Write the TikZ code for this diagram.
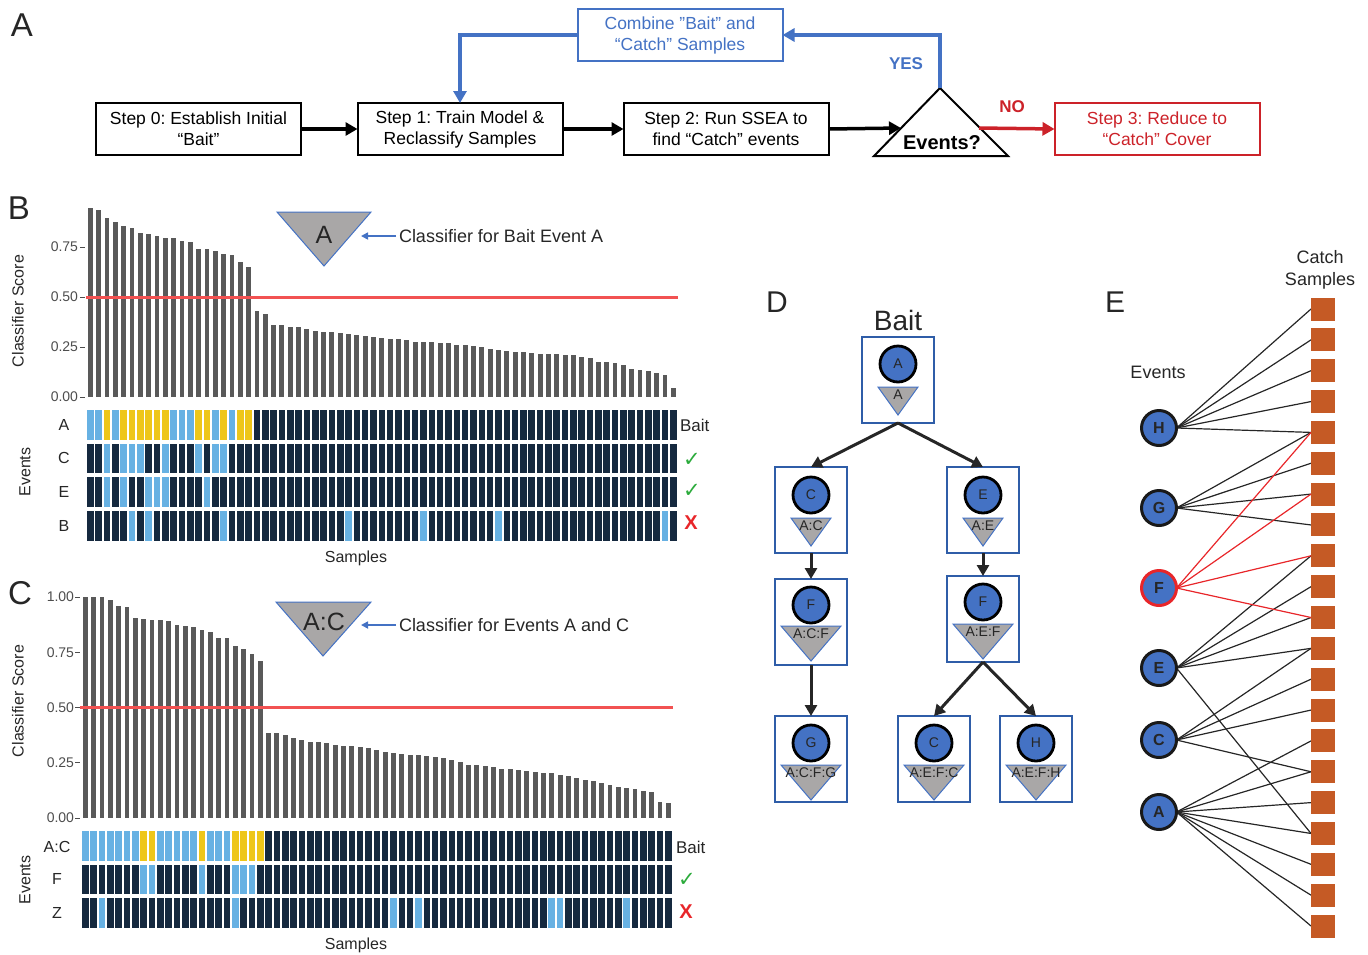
\documentclass[tikz,border=0pt]{standalone}
\usepackage{fontspec}
\setmainfont{Liberation Sans}
\newfontfamily\dejavu{DejaVu Sans}
\usetikzlibrary{arrows.meta,calc,backgrounds}
\definecolor{barc}{HTML}{595959}
\definecolor{lblue}{HTML}{67B1E3}
\definecolor{cyel}{HTML}{EEC619}
\definecolor{navy}{HTML}{15293F}
\definecolor{dblue}{HTML}{4472C4}
\definecolor{boxblue}{HTML}{2F5DA8}
\definecolor{fred}{HTML}{CC2229}
\definecolor{tgray}{HTML}{A9A7A7}
\definecolor{orng}{HTML}{C55A25}
\definecolor{cgreen}{HTML}{2CAB3C}
\definecolor{xred}{HTML}{E8262A}
\definecolor{ticklab}{HTML}{4D4D4D}
\definecolor{txt}{HTML}{262626}
\definecolor{thr}{HTML}{F25252}
\newcommand\fsz[2]{\fontsize{#1}{#2}\selectfont}
\newcommand\DNode[9]{%
  \node[dbox] (#1) at (#2,#3) {};
  \filldraw[fill=tgray, draw=dblue, line width=1] ({#2-#6},{#3+(#8)}) -- ({#2+#6},{#3+(#8)}) -- (#2,{#3+(#9)}) -- cycle;
  \node[dcirc] (#1c) at (#2,{#3+(#7)}) {#4};
  \node[font=\fsz{14}{14}, text=txt] (#1t) at (#2,{#3+(#8)+8}) {#5};
}
\frenchspacing
\begin{document}
\begin{tikzpicture}[x=1pt,y=-1pt,
  every node/.style={inner sep=0pt, outer sep=0pt},
  stepbox/.style={draw, line width=2pt, minimum width=205pt, minimum height=52pt, align=center, font=\fsz{17.5}{21}},
  blk/.style={line width=3.5pt, -{Triangle[length=12pt,width=13pt]}},
  blu/.style={dblue, line width=3.5pt, -{Triangle[length=12pt,width=13pt]}},
  dbox/.style={draw=boxblue, line width=2.6pt, fill=white, minimum width=72pt, minimum height=86pt},
  dcirc/.style={circle, draw=black, line width=2.8pt, fill=dblue, minimum size=36pt, font=\fsz{14}{14}, text=txt},
  darrow/.style={draw=txt, line width=3pt, -{Triangle[length=11pt,width=12pt]}},
  sq/.style={fill=orng, minimum width=24pt, minimum height=23pt},
  ecirc/.style={circle, fill=dblue, draw=black!90, line width=3pt, minimum size=35pt, font=\bfseries\fsz{16}{16}, text=txt},
  eline/.style={line width=1.2pt, black!85},
  rline/.style={line width=1.2pt, xred},
  lab/.style={font=\fsz{16}{16}, text=txt},
  tick/.style={ticklab, line width=1pt},
  ticktxt/.style={anchor=east, font=\fsz{14}{14}, text=ticklab},
  panel/.style={font=\fsz{33}{33}, text=txt}
]
\useasboundingbox (0,0) rectangle (1368,954);

%% ---------------- Panel A ----------------
\node[panel] (labA) at (22,25) {A};
\node[stepbox] (s0) at (198.5,129) {Step 0: Establish Initial\\“Bait”};
\node[stepbox] (s1) at (460,129) {Step 1: Train Model \&\\Reclassify Samples};
\node[stepbox] (s2) at (726,129) {Step 2: Run SSEA to\\find “Catch” events};
\node[stepbox, draw=fred, text=fred] (s3) at (1157,129) {Step 3: Reduce to\\“Catch” Cover};
\node[stepbox, draw=dblue, text=dblue] (comb) at (680,35) {Combine ”Bait” and\\“Catch” Samples};
\coordinate (tapex) at (940,88);
\coordinate (tleft) at (874,156);
\coordinate (tright) at (1008,156);
\draw[line width=2pt, line join=miter] (tapex) -- (tright) -- (tleft) -- cycle;
\node[font=\bfseries\fsz{20}{20}] (evq) at (942,143) {Events?};
\coordinate (tin) at (901,128);
\coordinate (tout) at (979,128);
\draw[blk] (s0.east) -- (s1.west);
\draw[blk] (s1.east) -- (s2.west);
\draw[blk] (s2.east) -- (tin);
\draw[blk, fred] (tout) -- (s3.west);
\draw[blu] (tapex) |- (comb.east);
\draw[blu] (comb.west) -| (s1.north);
\node[text=dblue, font=\bfseries\fsz{17}{17}] (yes) at (906,64) {YES};
\node[text=fred, font=\bfseries\fsz{17}{17}] (no) at (1012,107) {NO};

%% ---------------- Panel B ----------------
\node[panel] (labB) at (19,208) {B};
\node[lab, rotate=90] (ylabB) at (18,311) {Classifier Score};
\foreach \v/\t [count=\k] in {0/0.00,0.25/0.25,0.5/0.50,0.75/0.75} {
  \draw[tick] (80,{397-200*\v}) -- (85,{397-200*\v});
  \node[ticktxt] (tkB\k) at (78,{397-200*\v}) {\t};
}
\foreach \v [count=\i] in {0.943,0.934,0.894,0.877,0.854,0.844,0.820,0.817,0.804,0.795,0.794,0.778,0.777,0.740,0.739,0.732,0.713,0.710,0.673,0.650,0.432,0.415,0.362,0.360,0.352,0.348,0.338,0.328,0.326,0.325,0.321,0.315,0.311,0.306,0.298,0.295,0.290,0.290,0.286,0.276,0.275,0.273,0.271,0.268,0.261,0.258,0.253,0.251,0.239,0.234,0.228,0.226,0.224,0.219,0.214,0.213,0.213,0.211,0.208,0.198,0.194,0.176,0.174,0.172,0.161,0.142,0.136,0.129,0.119,0.110,0.047} {
  \fill[barc] ({87.9+8.33*(\i-1)},397) rectangle ({92.7+8.33*(\i-1)},{397-200*\v});
}
\fill[thr] (86,296.4) rectangle (678,298.6);
\filldraw[fill=tgray, draw=dblue, line width=1pt] (277,212) -- (371,212) -- (324,266) -- cycle;
\node[font=\fsz{25}{25}, text=txt] (triBtxt) at (324,235) {A};
\coordinate (triBr) at (361,236);
\node[anchor=west, font=\fsz{18}{18}, text=txt] (clsB) at (399,236) {Classifier for Bait Event A};
\draw[dblue, line width=1.6pt, -{Triangle[length=7pt,width=7pt]}, shorten <=3pt] (clsB.west) -- (triBr);
% cells
\foreach \yt in {410,443.5,477,511} {
  \foreach \i in {1,...,71} \fill[navy] ({87+8.33*(\i-1)},\yt) rectangle ++(6.6,29.5);
}
\foreach \i in {1,2,4,11,12,13,16,18} \fill[lblue] ({87+8.33*(\i-1)},410) rectangle ++(6.6,29.5);
\foreach \i in {3,5,6,7,8,9,10,14,15,17,19,20} \fill[cyel] ({87+8.33*(\i-1)},410) rectangle ++(6.6,29.5);
\foreach \i in {3,5,6,7,10,14,16,17} \fill[lblue] ({87+8.33*(\i-1)},443.5) rectangle ++(6.6,29.5);
\foreach \i in {3,5,8,9,10,15} \fill[lblue] ({87+8.33*(\i-1)},477) rectangle ++(6.6,29.5);
\foreach \i in {6,8,17,32,41,50,70} \fill[lblue] ({87+8.33*(\i-1)},511) rectangle ++(6.6,29.5);
\node[lab] (rBA) at (64,425) {A};
\node[lab] (rBC) at (64,458) {C};
\node[lab] (rBE) at (64,492) {E};
\node[lab] (rBB) at (64,526) {B};
\node[lab, rotate=90] (evB) at (25,472) {Events};
\node[lab, anchor=west, font=\fsz{17}{17}] (baitB) at (680,425) {Bait};
\node[text=cgreen, font=\dejavu\fsz{21}{21}] (ckB1) at (692,460) {✓};
\node[text=cgreen, font=\dejavu\fsz{21}{21}] (ckB2) at (692,491) {✓};
\node[text=xred, font=\bfseries\fsz{20}{20}] (xB) at (691,523) {X};
\node[lab] (smpB) at (356,558) {Samples};

%% ---------------- Panel C ----------------
\node[panel] (labC) at (20,593) {C};
\node[lab, rotate=90] (ylabC) at (18,701) {Classifier Score};
\foreach \v/\t [count=\k] in {0/0.00,0.25/0.25,0.5/0.50,0.75/0.75,1/1.00} {
  \draw[tick] (75,{818-221*\v}) -- (80,{818-221*\v});
  \node[ticktxt] (tkC\k) at (74,{818-221*\v}) {\t};
}
\foreach \v [count=\i] in {1.000,1.000,1.000,0.988,0.959,0.955,0.905,0.901,0.896,0.895,0.890,0.875,0.867,0.866,0.849,0.843,0.815,0.813,0.777,0.764,0.744,0.712,0.386,0.383,0.375,0.363,0.355,0.345,0.342,0.340,0.330,0.327,0.325,0.322,0.315,0.307,0.298,0.292,0.289,0.286,0.283,0.280,0.277,0.273,0.262,0.255,0.242,0.239,0.236,0.232,0.224,0.220,0.217,0.214,0.209,0.205,0.202,0.196,0.190,0.179,0.172,0.169,0.160,0.151,0.139,0.134,0.131,0.123,0.116,0.074,0.066} {
  \fill[barc] ({82.9+8.33*(\i-1)},818) rectangle ({87.7+8.33*(\i-1)},{818-221*\v});
}
\fill[thr] (80,706.4) rectangle (673,708.6);
\filldraw[fill=tgray, draw=dblue, line width=1pt] (276,602) -- (371,602) -- (323,656) -- cycle;
\node[font=\fsz{25}{25}, text=txt] (triCtxt) at (324,622) {A:C};
\coordinate (triCr) at (361,625);
\node[anchor=west, font=\fsz{18}{18}, text=txt] (clsC) at (399,625) {Classifier for Events A and C};
\draw[dblue, line width=1.6pt, -{Triangle[length=7pt,width=7pt]}, shorten <=3pt] (clsC.west) -- (triCr);
\foreach \yt in {831,864.5,898} {
  \foreach \i in {1,...,71} \fill[navy] ({82+8.33*(\i-1)},\yt) rectangle ++(6.6,29.5);
}
\foreach \i in {1,...,7,10,11,12,13,14,16,17,18} \fill[lblue] ({82+8.33*(\i-1)},831) rectangle ++(6.6,29.5);
\foreach \i in {8,9,15,19,20,21,22} \fill[cyel] ({82+8.33*(\i-1)},831) rectangle ++(6.6,29.5);
\foreach \i in {8,9,15,19,20,21} \fill[lblue] ({82+8.33*(\i-1)},864.5) rectangle ++(6.6,29.5);
\foreach \i in {3,19,38,41,57,58,66} \fill[lblue] ({82+8.33*(\i-1)},898) rectangle ++(6.6,29.5);
\node[lab] (rCAC) at (57,847) {A:C};
\node[lab] (rCF) at (57,879) {F};
\node[lab] (rCZ) at (57,913) {Z};
\node[lab, rotate=90] (evC) at (25,880) {Events};
\node[lab, anchor=west, font=\fsz{17}{17}] (baitC) at (676,847) {Bait};
\node[text=cgreen, font=\dejavu\fsz{21}{21}] (ckC) at (687,880) {✓};
\node[text=xred, font=\bfseries\fsz{20}{20}] (xC) at (686,912) {X};
\node[lab] (smpC) at (356,945) {Samples};

%% ---------------- Panel D ----------------
\node[panel, font=\fsz{30}{30}] (labD) at (777,302) {D};
\node[font=\fsz{28}{28}, text=txt] (baitD) at (898,320) {Bait};
\DNode{dA}{898}{380}{A}{A}{20}{-16}{7}{35}
\DNode{dC}{811}{510}{C}{A:C}{20}{-15}{8}{36}
\DNode{dE}{983}{510}{E}{A:E}{20}{-15}{8}{36}
\DNode{dCF}{811}{622}{F}{A:C:F}{30}{-17}{4}{39}
\DNode{dEF}{983}{619}{F}{A:E:F}{30}{-17}{5}{40}
\DNode{dCFG}{811}{759}{G}{A:C:F:G}{30}{-16}{6}{41}
\DNode{dEFC}{934}{759}{C}{A:E:F:C}{30}{-16}{6}{41}
\DNode{dEFH}{1036}{759}{H}{A:E:F:H}{30}{-16}{6}{41}
\draw[darrow] (dA.south) -- (dC.north);
\draw[darrow] (dA.south) -- (dE.north);
\draw[darrow] (dC.south) -- (dCF.north);
\draw[darrow] (dE.south) -- (dEF.north);
\draw[darrow] (dCF.south) -- (dCFG.north);
\draw[darrow] (dEF.south) -- (dEFC.north);
\draw[darrow] (dEF.south) -- (dEFH.north);

%% ---------------- Panel E ----------------
\node[panel, font=\fsz{30}{30}] (labE) at (1115,302) {E};
\node[font=\fsz{18}{18}, text=txt] (evE) at (1158,372) {Events};
\node[font=\fsz{18}{22}, text=txt, align=center] (catchE) at (1320,270) {Catch\\Samples};
\foreach \i in {1,...,21} \node[sq] (q\i) at (1323,{309+30.85*(\i-1)}) {};
\node[ecirc] (eH) at (1159,428) {H};
\node[ecirc] (eG) at (1159,508) {G};
\node[ecirc, draw=xred] (eF) at (1159,588) {F};
\node[ecirc] (eE) at (1159,668) {E};
\node[ecirc] (eC) at (1159,740) {C};
\node[ecirc] (eA) at (1159,812) {A};
\begin{pgfonlayer}{background}
\foreach \j in {1,...,5} \draw[eline] (eH.east) -- (q\j.west);
\foreach \j in {5,6,7,8} \draw[eline] (eG.east) -- (q\j.west);
\foreach \j in {9,10,11,12,18} \draw[eline] (eE.east) -- (q\j.west);
\foreach \j in {12,13,14,16} \draw[eline] (eC.east) -- (q\j.west);
\foreach \j in {15,...,21} \draw[eline] (eA.east) -- (q\j.west);
\foreach \j in {5,7,9,11} \draw[rline] (eF.east) -- (q\j.west);
\end{pgfonlayer}
\end{tikzpicture}
\end{document}
